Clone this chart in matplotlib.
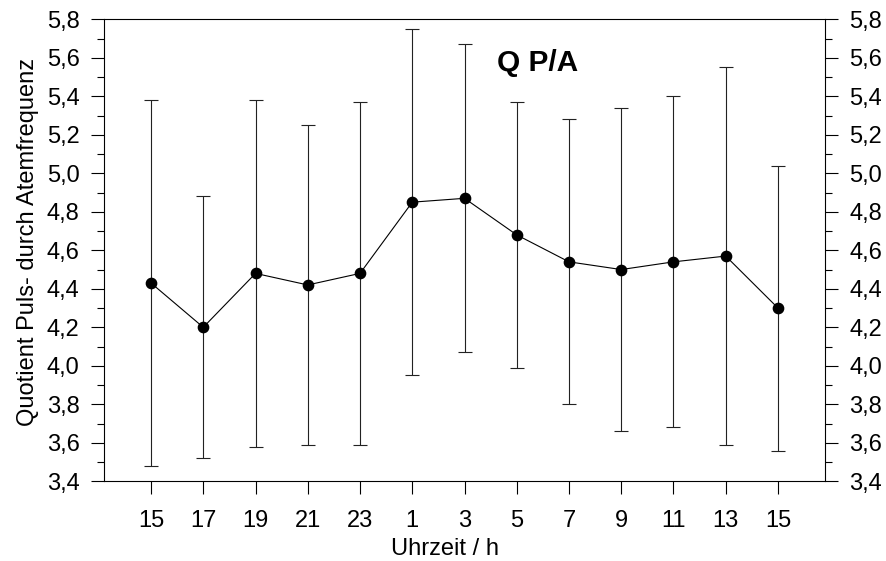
import matplotlib
matplotlib.use("Agg")
import matplotlib.pyplot as plt
from matplotlib.ticker import FuncFormatter, MultipleLocator

plt.rcParams['font.family'] = ['Liberation Sans', 'DejaVu Sans']

hours = ["15", "17", "19", "21", "23", "1", "3", "5", "7", "9", "11", "13", "15"]
means = [4.43, 4.20, 4.48, 4.42, 4.48, 4.85, 4.87, 4.68, 4.54, 4.50, 4.54, 4.57, 4.30]
upper = [5.38, 4.88, 5.38, 5.25, 5.37, 5.75, 5.67, 5.37, 5.28, 5.34, 5.40, 5.55, 5.04]
lower = [3.48, 3.52, 3.58, 3.59, 3.59, 3.95, 4.07, 3.99, 3.80, 3.66, 3.68, 3.59, 3.56]

xpos = list(range(1, len(hours) + 1))
err_lo = [m - l for m, l in zip(means, lower)]
err_hi = [u - m for m, u in zip(means, upper)]

fig = plt.figure(figsize=(8.86, 5.61), dpi=100)
ax = fig.add_axes([104/886, 1 - 481.3/561, (825-104)/886, (481.3-19.3)/561])

ax.errorbar(xpos, means, yerr=[err_lo, err_hi], fmt='none', ecolor='#222222',
            elinewidth=0.8, capsize=4.8, capthick=0.8, zorder=2)
ax.plot(xpos, means, color='black', lw=0.8, marker='o', markersize=7.4,
        markerfacecolor='black', markeredgecolor='black', zorder=3)

ax.set_xlim(0.1, 13.9)
ax.set_ylim(3.4, 5.8)
ax.set_xticks(xpos)
ax.set_xticklabels(hours)
ax.yaxis.set_major_locator(MultipleLocator(0.2))
ax.yaxis.set_minor_locator(MultipleLocator(0.1))
ax.yaxis.set_major_formatter(FuncFormatter(lambda v, p: f"{v:.1f}".replace('.', ',')))

ax.tick_params(axis='x', which='major', direction='out', length=9.5, width=0.8,
               labelsize=17, pad=11.5, top=False)
ax.tick_params(axis='y', which='major', direction='out', length=9.5, width=0.8,
               labelsize=17, pad=8, left=True, right=True, labelleft=True, labelright=True)
ax.tick_params(axis='y', which='minor', direction='out', length=4.8, width=0.8,
               left=True, right=True)
ax.tick_params(axis='x', which='minor', bottom=False, top=False)

for s in ax.spines.values():
    s.set_linewidth(0.8)

ax.set_xlabel("Uhrzeit / h", fontsize=17)
ax.xaxis.set_label_coords(0.473, -0.122)
ax.xaxis.label.set_va('top')
ax.set_ylabel("Quotient Puls- durch Atemfrequenz", fontsize=17, va='center')
ax.yaxis.set_label_coords(-0.105, 0.517)

ax.text(0.601, 0.888, "Q P/A", transform=ax.transAxes, ha='center', va='baseline',
        fontsize=21.5, fontweight='bold')

fig.savefig("out.png", dpi=100)
